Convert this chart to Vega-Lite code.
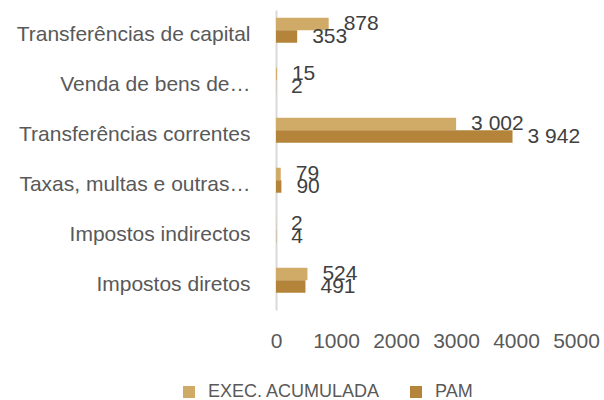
{
  "$schema": "https://vega.github.io/schema/vega-lite/v6.json",
  "width": 300,
  "height": 300,
  "autosize": {"type": "none"},
  "padding": {"left": 276, "top": 10, "right": 28, "bottom": 90},
  "config": {
    "view": {"stroke": null},
    "font": "Liberation Sans",
    "locale": {"number": {"decimal": ",", "thousands": " ", "grouping": [3], "currency": ["", ""]}}
  },
  "data": {
    "values": [
      {"categoria": "Transferências de capital", "serie": "EXEC. ACUMULADA", "valor": 878},
      {"categoria": "Transferências de capital", "serie": "PAM", "valor": 353},
      {"categoria": "Venda de bens de…", "serie": "EXEC. ACUMULADA", "valor": 15},
      {"categoria": "Venda de bens de…", "serie": "PAM", "valor": 2},
      {"categoria": "Transferências correntes", "serie": "EXEC. ACUMULADA", "valor": 3002},
      {"categoria": "Transferências correntes", "serie": "PAM", "valor": 3942},
      {"categoria": "Taxas, multas e outras…", "serie": "EXEC. ACUMULADA", "valor": 79},
      {"categoria": "Taxas, multas e outras…", "serie": "PAM", "valor": 90},
      {"categoria": "Impostos indirectos", "serie": "EXEC. ACUMULADA", "valor": 2},
      {"categoria": "Impostos indirectos", "serie": "PAM", "valor": 4},
      {"categoria": "Impostos diretos", "serie": "EXEC. ACUMULADA", "valor": 524},
      {"categoria": "Impostos diretos", "serie": "PAM", "valor": 491}
    ]
  },
  "encoding": {
    "y": {
      "field": "categoria",
      "type": "nominal",
      "sort": null,
      "scale": {"paddingInner": 0, "paddingOuter": 0},
      "axis": {
        "title": null,
        "ticks": false,
        "labelFontSize": 21,
        "labelColor": "#595959",
        "labelPadding": 26,
        "labelLimit": 300,
        "domainColor": "#D9D9D9",
        "domainWidth": 2
      }
    },
    "yOffset": {
      "field": "serie",
      "type": "nominal",
      "sort": ["EXEC. ACUMULADA", "PAM"],
      "scale": {"paddingInner": 0, "paddingOuter": 1.38, "align": 0.31}
    }
  },
  "layer": [
    {
      "mark": {"type": "bar"},
      "encoding": {
        "x": {
          "field": "valor",
          "type": "quantitative",
          "scale": {"domain": [0, 5000], "nice": false},
          "axis": {
            "title": null,
            "values": [0, 1000, 2000, 3000, 4000, 5000],
            "format": "d",
            "grid": false,
            "domain": false,
            "ticks": false,
            "labelFontSize": 21,
            "labelColor": "#595959",
            "labelPadding": 20,
            "labelFlush": false,
            "labelOverlap": false
          }
        },
        "color": {
          "field": "serie",
          "type": "nominal",
          "scale": {"domain": ["EXEC. ACUMULADA", "PAM"], "range": ["#D0AB67", "#B3843A"]},
          "legend": {
            "title": null,
            "orient": "none",
            "direction": "horizontal",
            "legendX": -96,
            "legendY": 373,
            "symbolType": "square",
            "symbolSize": 144,
            "symbolStrokeWidth": 0,
            "labelFontSize": 18,
            "labelColor": "#595959",
            "labelOffset": 10,
            "labelLimit": 300,
            "columnPadding": 26
          }
        }
      }
    },
    {
      "mark": {"type": "text", "align": "left", "baseline": "middle", "dx": 15, "fontSize": 21, "color": "#404040"},
      "encoding": {
        "x": {"field": "valor", "type": "quantitative"},
        "text": {"field": "valor", "type": "quantitative", "format": ",d"}
      }
    }
  ]
}
